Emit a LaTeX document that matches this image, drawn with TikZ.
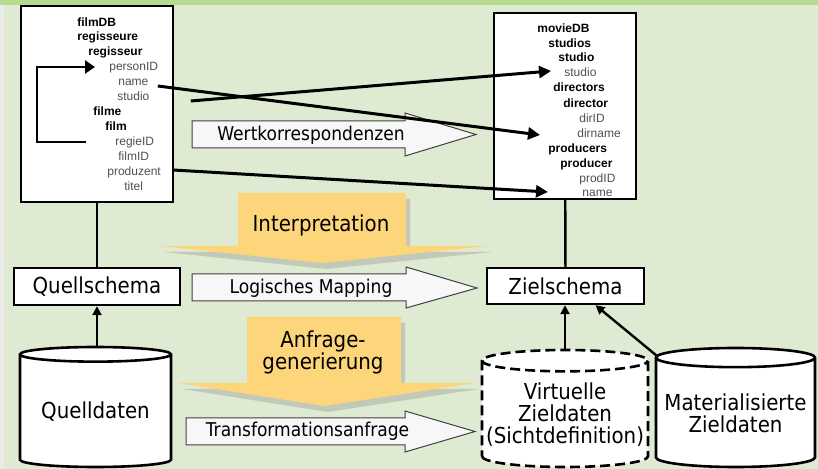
\documentclass[tikz,border=0pt]{standalone}
\usepackage{fontspec}
\newfontfamily\labelfont[FakeStretch=0.9]{DejaVu Sans}
\newfontfamily\treefont{Liberation Sans}
\usetikzlibrary{arrows.meta,shapes.geometric,shadows}

\definecolor{bggreen}{HTML}{DFEAD3}
\definecolor{topgreen}{HTML}{B5DA90}
\definecolor{arrowyellow}{HTML}{FDD67C}
\definecolor{leafgray}{HTML}{505050}

\begin{document}
\begin{tikzpicture}[x=0.5pt, y=-0.5pt,
	box/.style={draw, fill=white, line width=1.2pt, inner sep=0},
	bigtext/.style={font=\labelfont\fontsize{11}{11}\selectfont, align=center},
	flattext/.style={font=\labelfont\fontsize{9.5}{10}\selectfont},
	group/.style={anchor=west, inner sep=1pt, text height=4.4pt, text depth=1.3pt, font=\treefont\bfseries\fontsize{6}{7}\selectfont},
	leaf/.style={group, font=\treefont\fontsize{6}{7}\selectfont, text=leafgray},
	store/.style={cylinder, shape border rotate=90, aspect=0.135, draw, fill=white, line width=1.3pt, inner sep=0, anchor=shape center, bigtext},
	corr/.style={-{Triangle[length=6pt,width=6pt]}, line width=1.5pt},
	loopline/.style={-{Triangle[length=5pt,width=6.5pt]}, line width=1.3pt, shorten <=13.5pt, shorten >=6pt},
	link/.style={line width=1.2pt},
	feed/.style={-{Triangle[length=4.5pt,width=4.5pt]}, line width=1.2pt},
	flat/.style={fill=black!3, draw=black!75, line width=0.5pt},
	big/.style={fill=arrowyellow, drop shadow={opacity=0.3, shadow xshift=2pt, shadow yshift=-3pt}}]
	% background
	\fill[bggreen] (0,0) rectangle (818,469);
	\fill[topgreen] (0,0) rectangle (818,5);
	\fill[black!8] (0,5) rectangle (4,469);
	\useasboundingbox (0,0) rectangle (818,469);

	% yellow arrows
	\path[big] (238,193) -- (406,193) -- (406,246) -- (488,246) -- (322,263) -- (160,246) -- (238,246) -- cycle;
	\node[bigtext] (interp) at (321,225) {Interpretation};
	\path[big] (247,317) -- (401,317) -- (401,383) -- (475,383) -- (324,406) -- (178,383) -- (247,383) -- cycle;
	\node[bigtext] (anfrage) at (323,352) {Anfrage-\\generierung};

	% white arrows
	\draw[flat] (192,121) -- (405,121) -- (405,113) -- (476,134.5) -- (405,156) -- (405,148) -- (192,148) -- cycle;
	\node[flattext] (wert) at (311,135) {Wertkorrespondenzen};
	\draw[flat] (192,274) -- (406,274) -- (406,267) -- (477,288) -- (406,308) -- (406,301) -- (192,301) -- cycle;
	\node[flattext] (mapping) at (311,288) {Logisches Mapping};
	\draw[flat] (186,418) -- (405,418) -- (405,411) -- (475,431.5) -- (405,452) -- (405,445) -- (186,445) -- cycle;
	\node[flattext] (transf) at (307.5,431.5) {Transformationsanfrage};

	% source schema
	\node[box, minimum width=76pt, minimum height=98pt] (lschema) at (97,104) {};
	\node[group] (lfilmdb) at (75,23) {filmDB};
	\node[group] (lregisseure) at (75,37) {regisseure};
	\node[group] (lregisseur) at (86,52) {regisseur};
	\node[leaf] (lpersonid) at (107,67) {personID};
	\node[leaf] (lname) at (116,82) {name};
	\node[leaf] (lstudio) at (115,97) {studio};
	\node[group] (lfilme) at (91,112) {filme};
	\node[group] (lfilm) at (103,127) {film};
	\node[leaf] (lregieid) at (113,142) {regieID};
	\node[leaf] (lfilmid) at (116,157) {filmID};
	\node[leaf] (lproduzent) at (105,172) {produzent};
	\node[leaf] (ltitel) at (122,187) {titel};

	% target schema
	\node[box, minimum width=71pt, minimum height=93pt] (rschema) at (565,106) {};
	\node[group] (rmoviedb) at (535,29) {movieDB};
	\node[group] (rstudios) at (546,44) {studios};
	\node[group] (rstudiog) at (556,58) {studio};
	\node[leaf] (rstudio) at (562,73) {studio};
	\node[group] (rdirectors) at (551,88) {directors};
	\node[group] (rdirector) at (561,104) {director};
	\node[leaf] (rdirid) at (577,119) {dirID};
	\node[leaf] (rdirname) at (575,134) {dirname};
	\node[group] (rproducers) at (546,149) {producers};
	\node[group] (rproducer) at (558,164) {producer};
	\node[leaf] (rprodid) at (577,179) {prodID};
	\node[leaf] (rname) at (580,193) {name};

	% schemas and data
	\node[box, bigtext, minimum width=83pt, minimum height=18.5pt] (qschema) at (97,286.5) {Quellschema};
	\node[box, bigtext, minimum width=78.5pt, minimum height=18pt] (zschema) at (565.5,286) {Zielschema};
	\node[store, minimum width=75.5pt, minimum height=60pt] (qdaten) at (95.5,407) {Quelldaten};
	\node[store, dash pattern=on 5pt off 2.5pt, minimum width=83pt, minimum height=58.5pt] (vdaten) at (565,408.5) {Virtuelle\\Zieldaten\\(Sichtdefinition)};
	\node[store, minimum width=79.5pt, minimum height=59.5pt] (mdaten) at (735.5,407.5) {Materialisierte\\Zieldaten};

	% connectors
	\draw[loopline] (lregieid.west) -- ++(-76,0) |- (lpersonid.west);
	\draw[corr] ([shift={(7,4)}]lname.east) -- ([shift={(-35,1)}]rdirname.west);
	\draw[corr] ([shift={(39,4)}]lstudio.east) -- ([shift={(-11,-2)}]rstudio.west);
	\draw[corr] ([shift={(10,-2)}]lproduzent.east) -- ([shift={(-32,-1)}]rname.west);
	\draw[link] (lschema) -- (qschema);
	\draw[link] (rschema) -- (zschema);
	\draw[feed] (qschema.south |- qdaten.north) -- (qschema.south);
	\draw[feed] (vdaten.north) -- (vdaten.north |- zschema.south);
	\draw[feed] (mdaten.144) -- ([shift={(30,0)}]zschema.south);
\end{tikzpicture}
\end{document}
